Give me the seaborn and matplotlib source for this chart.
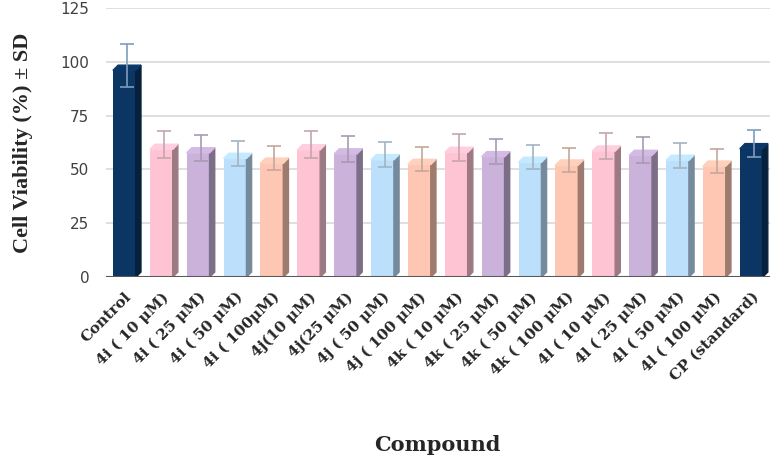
import numpy as np
import pandas as pd
import matplotlib
matplotlib.use("Agg")
import matplotlib.pyplot as plt
import matplotlib.colors as mcolors
from matplotlib.patches import Polygon
import seaborn as sns

compounds = ["Control",
             "4i ( 10 μM)", "4i ( 25 μM)", "4i ( 50 μM)", "4i ( 100μM)",
             "4j(10 μM)", "4j(25 μM)", "4j ( 50 μM)", "4j ( 100 μM)",
             "4k ( 10 μM)", "4k ( 25 μM)", "4k ( 50 μM)", "4k ( 100 μM)",
             "4l ( 10 μM)", "4l ( 25 μM)", "4l ( 50 μM)", "4l ( 100 μM)",
             "CP (standard)"]
viability = [96.0,
             59.3, 57.7, 55.1, 52.9,
             59.1, 57.2, 54.5, 52.3,
             57.9, 55.9, 53.3, 52.0,
             58.5, 56.5, 54.2, 51.5,
             59.6]
sd = [10.0,
      6.3, 6.0, 5.8, 5.6,
      6.2, 6.0, 5.7, 5.6,
      6.2, 5.9, 5.7, 5.6,
      6.2, 6.0, 5.8, 5.6,
      6.4]
bar_colors = ["#0b3562"] + ["#fec4d4", "#cab2db", "#bcdffb", "#fdc7b3"] * 4 + ["#0b3562"]

df = pd.DataFrame({"compound": compounds, "viability": viability, "sd": sd})

sns.set_style("white")
plt.rcParams["font.family"] = ["DejaVu Sans"]

fig, ax = plt.subplots(figsize=(7.79, 4.62), dpi=100)
fig.subplots_adjust(left=0.136, right=0.988, top=0.983, bottom=0.40)

sns.barplot(data=df, x="compound", y="viability", hue="compound",
            palette=bar_colors, legend=False, width=0.62, ax=ax,
            edgecolor="none", saturation=1)

# fake 3D side and top faces
dx, dy = 0.14, 2.4
for p, c in zip(ax.patches, bar_colors):
    x0, w, h = p.get_x(), p.get_width(), p.get_height()
    side = tuple(v * 0.62 for v in mcolors.to_rgb(c))
    ax.add_patch(Polygon([(x0 + w, 0), (x0 + w + dx, dy), (x0 + w + dx, h + dy), (x0 + w, h)],
                         closed=True, color=side, zorder=p.get_zorder()))
    top = tuple(min(1, v * 1.05) for v in mcolors.to_rgb(c))
    ax.add_patch(Polygon([(x0, h), (x0 + dx, h + dy), (x0 + w + dx, h + dy), (x0 + w, h)],
                         closed=True, color=top, zorder=p.get_zorder()))

xs = np.arange(len(compounds))
for x, v, e, c in zip(xs, viability, sd, bar_colors):
    ec = tuple(0.55 * a + 0.45 * 0.5 for a in mcolors.to_rgb(c))
    if c == "#0b3562":
        ec = "#7f9dbb"
    ax.errorbar(x + dx / 2, v + dy, yerr=e, fmt="none", ecolor=ec,
                elinewidth=1.2, capsize=5, capthick=1.2, zorder=5)

ax.set_ylim(0, 125)
ax.set_xlim(-0.5, len(compounds) - 0.5)
ax.set_yticks([0, 25, 50, 75, 100, 125])
ax.yaxis.grid(True, color="#d9d9d9", linewidth=1.2)
ax.set_axisbelow(True)
ax.axhline(0, color="#595959", linewidth=1.5, zorder=1)
for s in ax.spines.values():
    s.set_visible(False)

ax.tick_params(axis="y", labelsize=11, labelcolor="#404040", length=0, pad=12)
ax.tick_params(axis="x", length=0, pad=9)
ax.set_xticks(xs)
ax.set_xticklabels(compounds, rotation=45, ha="right", rotation_mode="anchor",
                   fontsize=11, fontweight="bold", family="DejaVu Serif")

ax.set_ylabel("Cell Viability (%) ± SD", fontsize=16, fontweight="bold",
              family="Liberation Serif", labelpad=20)
ax.set_xlabel("Compound", fontsize=15, fontweight="bold",
              family="DejaVu Serif", labelpad=37)

plt.savefig("out.png", dpi=100)
